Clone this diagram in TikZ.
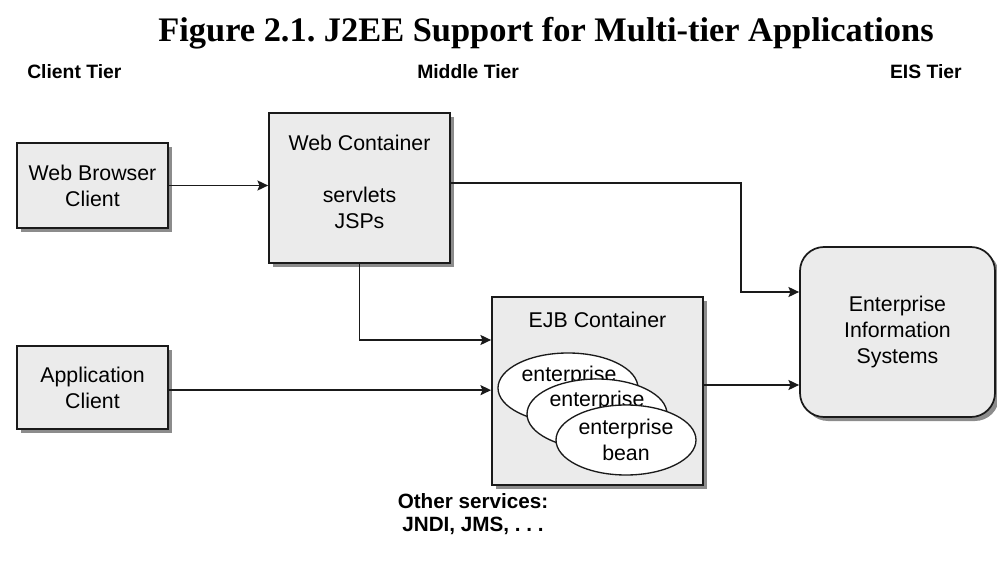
\documentclass[tikz,border=0pt]{standalone}
\usepackage{fontspec}
\setmainfont{Liberation Sans}
\newfontfamily\titlefont{Liberation Serif}
\usetikzlibrary{shapes.geometric,shadows,arrows.meta,calc}
\definecolor{boxgray}{HTML}{EBEBEB}
\definecolor{shadowgray}{HTML}{8C8C8C}
\definecolor{linecol}{HTML}{1A1A1A}
\frenchspacing
\begin{document}
\begin{tikzpicture}[x=0.75pt,y=-0.75pt,
  boxtext/.style={font=\fontsize{16}{19.5}\selectfont, align=center},
  box/.style={draw=linecol, line width=1.3pt, fill=boxgray, inner sep=0pt, boxtext,
    drop shadow={shadow xshift=3pt, shadow yshift=-3pt, fill=shadowgray, opacity=1}},
  tier/.style={font=\bfseries\fontsize{14.5}{17}\selectfont, inner sep=0pt},
  bean/.style={ellipse, draw=linecol, line width=1pt, fill=white, inner sep=0pt,
    minimum width=105pt, minimum height=52.5pt, boxtext},
  beantext/.style={boxtext, inner sep=0pt},
  arr/.style={draw=linecol, line width=1.3pt, -{Stealth[length=8pt,width=7.5pt,inset=1.5pt]}}]
\useasboundingbox (0,0) rectangle (997,563);
% title
\node[font=\titlefont\bfseries\fontsize{25.8}{30}\selectfont, anchor=base] (title) at (546,42)
  {Figure 2.1. J2EE Support for Multi-tier Applications};
% tier labels
\node[tier, anchor=base west] (ct) at (27,79) {Client Tier};
\node[tier, anchor=base west] (mt) at (417,79) {Middle Tier};
\node[tier, anchor=base east] (et) at (962,79) {EIS Tier};
% boxes
\node[box, minimum width=113.25pt, minimum height=63.75pt] (wb) at (92.5,185.5) {Web Browser\\Client};
\node[box, minimum width=113.25pt, minimum height=62.25pt] (ac) at (92.5,387.5) {Application\\Client};
\node[box, minimum width=135.75pt, minimum height=112.5pt] (wc) at (359.5,188) {};
\node[boxtext] (wctext) at (359.5,182) {Web Container\\[19.5pt]servlets\\JSPs};
\node[box, minimum width=158.25pt, minimum height=141pt] (ejb) at (597.5,391) {};
\node[boxtext] (ejbtext) at (597.5,320) {EJB Container};
\node[box, rounded corners=18pt, minimum width=146.25pt, minimum height=127.5pt] (eis) at (897.5,332)
  {Enterprise\\Information\\Systems};
% enterprise beans
\node[bean] (b1) at (568,388) {};
\node[beantext] (b1t) at (569,376) {enterprise};
\node[bean] (b2) at (597,414) {};
\node[beantext] (b2t) at (597,401) {enterprise};
\node[bean] (b3) at (626,440) {enterprise\\bean};
% connectors
\draw[arr] (wb.east) -- (wb.east -| wc.west);
\draw[arr] ([yshift=3.75pt]wc.east) -| (741,292) -- ([yshift=30pt]eis.west);
\draw[arr] (wc.south) |- ([yshift=38.25pt]ejb.west);
\draw[arr] ([yshift=-2pt]ac.east) -- ([yshift=-2pt]ac.east -| ejb.west);
\draw[arr] ([yshift=4.5pt]ejb.east) -- ([yshift=-39.75pt]eis.west);
% other services
\node[font=\bfseries\fontsize{15.5}{17.5}\selectfont, align=center] (os) at (473,514)
  {Other services:\\JNDI, JMS, . . .};
\end{tikzpicture}
\end{document}
